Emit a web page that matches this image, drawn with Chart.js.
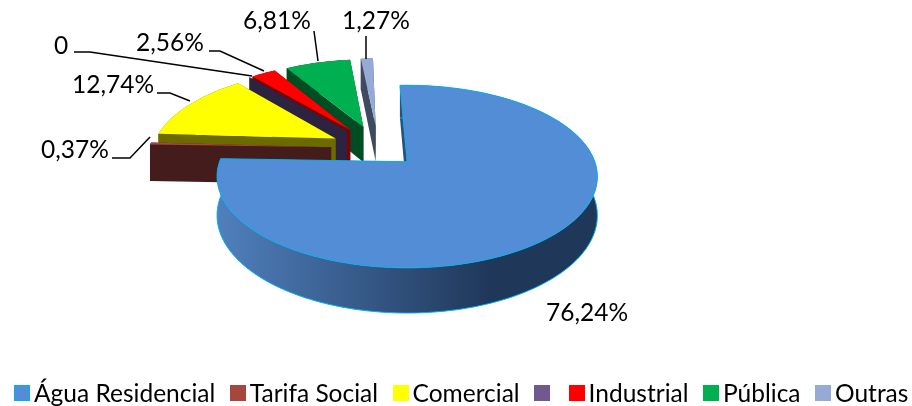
<!DOCTYPE html>
<html>
<head>
<meta charset="utf-8">
<script src="https://cdn.jsdelivr.net/npm/chart.js@4"></script>
<style>
  html, body { margin: 0; background: #fff; }
  #wrap { position: relative; width: 912px; height: 406px; overflow: hidden; }
  #legend { position: absolute; left: 14px; top: 378px; display: flex; font: 24.5px Lato, sans-serif; line-height: 30px; color: #000; white-space: nowrap; }
  #legend .item { display: flex; align-items: center; margin-right: 14.5px; }
  #legend i { display: block; width: 16px; height: 16px; margin-right: 4px; box-sizing: border-box; }
</style>
</head>
<body>
<div id="wrap">
  <canvas id="pie" width="912" height="406"></canvas>
  <div id="legend"></div>
</div>
<script>
const categories = ['Água Residencial', 'Tarifa Social', 'Comercial', ' ', 'Industrial', 'Pública', 'Outras'];
const values = [76.24, 0.37, 12.74, 0, 2.56, 6.81, 1.27];
const topColors = ['#538dd5', '#a5463f', '#ffff00', '#71588f', '#ff0000', '#00b050', '#95abd5'];
const wallColors = ['#1f3759', '#451c1c', '#6b6b00', '#2c2340', '#800000', '#004d23', '#3d4a5f'];
const explodeBy = [0.22, 0.26, 0.27, 0.28, 0.28, 0.28, 0.28];

// label text anchor and leader line bend points, same order as categories
const labelBoxes = [
  { x: 587, y: 313 },
  { x: 75, y: 150, line: [[112, 158], [130, 158], [150, 137]] },
  { x: 113, y: 85, line: [[157, 93], [170, 93], [190, 101]] },
  { x: 61, y: 46, line: [[74, 52], [90, 52], [252, 76]] },
  { x: 170, y: 43, line: [[209, 51], [220, 51], [264, 71]] },
  { x: 277, y: 21, line: [[314, 31], [318, 61]] },
  { x: 376, y: 21, line: [[366, 36], [366, 59]] }
];

// fake 3D view of the pie plane
const view = { cx: 406, cy: 164, rx: 188.4, ry: 89.6, k: 0.163, depth: 38, ou: -0.15, ov: -0.18 };

function project(u, v, h) {
  const w = 1 - view.k * v;
  return [view.cx + view.rx * u / w, view.cy + (view.ry * v + view.depth * h) / w];
}

function rimPoints(arc, explode) {
  const mid = (arc.startAngle + arc.endAngle) / 2;
  const ou = view.ou + explode * Math.cos(mid);
  const ov = view.ov + explode * Math.sin(mid);
  const steps = Math.max(1, Math.ceil((arc.endAngle - arc.startAngle) * 40));
  const rim = [];
  for (let i = 0; i <= steps; i++) {
    const a = arc.startAngle + (arc.endAngle - arc.startAngle) * i / steps;
    rim.push([ou + Math.cos(a), ov + Math.sin(a)]);
  }
  return { apex: [ou, ov], rim };
}

function trace(ctx, pts) {
  ctx.beginPath();
  pts.forEach((p, i) => i ? ctx.lineTo(p[0], p[1]) : ctx.moveTo(p[0], p[1]));
}

function pctText(v) {
  return v === 0 ? '0' : v.toFixed(2).replace('.', ',') + '%';
}

const pie3d = {
  id: 'pie3d',
  beforeDatasetsDraw(chart) {
    const ctx = chart.ctx;
    const arcs = chart.getDatasetMeta(0).data;
    // back to front: small slices from the last one, big slice on top
    const order = [6, 5, 4, 3, 2, 1, 0];
    order.forEach(i => {
      const { apex, rim } = rimPoints(arcs[i], explodeBy[i]);
      const topRim = rim.map(p => project(p[0], p[1], 0));
      const bottomRim = rim.map(p => project(p[0], p[1], 1));
      const topApex = project(apex[0], apex[1], 0);
      const bottomApex = project(apex[0], apex[1], 1);
      let wall = wallColors[i];
      if (i === 0) {
        wall = ctx.createLinearGradient(216, 0, 598, 0);
        wall.addColorStop(0, '#5080bd');
        wall.addColorStop(0.72, '#1f3759');
        wall.addColorStop(1, '#1f3759');
      }
      ctx.fillStyle = wall;
      // outer rim, then the two cut faces
      trace(ctx, [...topRim, ...bottomRim.slice().reverse()]);
      ctx.closePath();
      ctx.fill();
      trace(ctx, [topApex, topRim[0], bottomRim[0], bottomApex]);
      ctx.closePath();
      ctx.fill();
      trace(ctx, [topApex, topRim[topRim.length - 1], bottomRim[bottomRim.length - 1], bottomApex]);
      ctx.closePath();
      ctx.fill();
      if (i === 0) {
        ctx.strokeStyle = '#00b0f0';
        ctx.lineWidth = 1;
        trace(ctx, bottomRim);
        ctx.stroke();
      }
      ctx.fillStyle = topColors[i];
      trace(ctx, [topApex, ...topRim]);
      ctx.closePath();
      ctx.fill();
      if (i === 0) ctx.stroke();
    });
    return false;
  },
  afterDraw(chart) {
    const ctx = chart.ctx;
    ctx.fillStyle = '#000';
    ctx.strokeStyle = '#000';
    ctx.lineWidth = 1.5;
    ctx.font = '24.5px Lato, sans-serif';
    ctx.textAlign = 'center';
    ctx.textBaseline = 'middle';
    labelBoxes.forEach((box, i) => {
      ctx.fillText(pctText(values[i]), box.x, box.y);
      if (box.line) {
        trace(ctx, box.line);
        ctx.stroke();
      }
    });
  }
};

new Chart(document.getElementById('pie'), {
  type: 'pie',
  data: {
    labels: categories,
    datasets: [{ data: values, backgroundColor: topColors, borderWidth: 0 }]
  },
  options: {
    responsive: false,
    animation: false,
    rotation: -2.5,
    plugins: { legend: { display: false }, tooltip: { enabled: false } }
  },
  plugins: [pie3d]
});

// legend in html so the swatch gap can sit tight against the text
const legend = document.getElementById('legend');
categories.forEach((name, i) => {
  const item = document.createElement('div');
  item.className = 'item';
  const box = document.createElement('i');
  box.style.background = topColors[i];
  if (i === 0) box.style.border = '1px solid #00b0f0';
  const text = document.createElement('span');
  text.textContent = name;
  item.append(box, text);
  legend.append(item);
});
</script>
</body>
</html>
